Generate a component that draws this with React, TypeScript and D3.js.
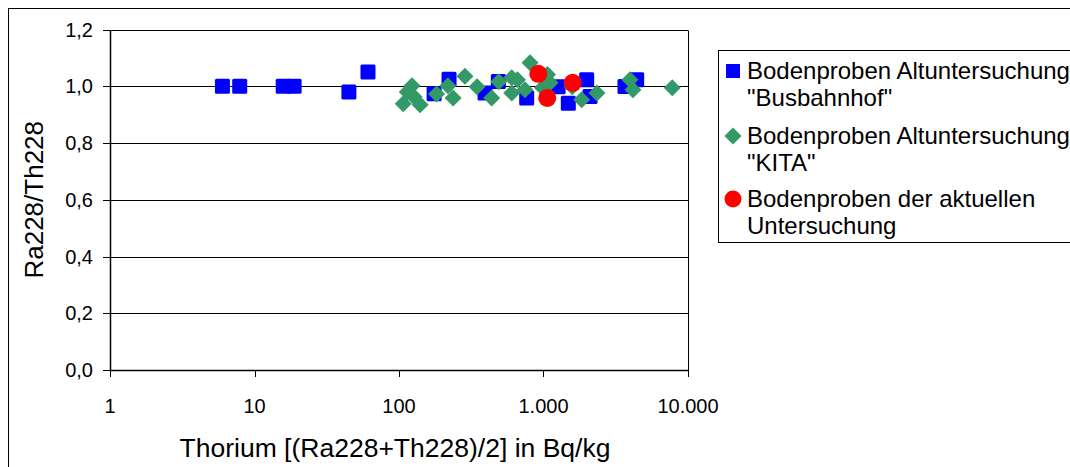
import React from "react";
import * as d3 from "d3";

// Busbahnhof (blue squares)
const busX = [6.0, 7.9, 15.8, 18.8, 45, 61, 175, 222, 394, 487, 765, 1262, 1485, 1990, 2099, 3664, 4415];
const busY = [1.0, 1.0, 1.0, 1.0, 0.98, 1.05, 0.974, 1.025, 0.976, 1.017, 0.959, 0.998, 0.94, 1.023, 0.964, 0.999, 1.023];

// KITA (green diamonds)
const kitaX = [107, 114, 123, 127, 140, 182, 218, 237, 286, 347, 438, 490, 603, 603, 660, 744, 807, 983, 1066, 1110, 1581, 1837, 2343, 3966, 4158, 7780];
const kitaY = [0.938, 0.98, 1.002, 0.963, 0.935, 0.973, 1.002, 0.959, 1.035, 0.998, 0.959, 1.016, 1.03, 0.976, 1.023, 0.988, 1.083, 0.995, 1.041, 1.012, 0.998, 0.952, 0.976, 1.023, 0.988, 0.995];

// aktuelle Untersuchung (red circles)
const aktX = [921, 1062, 1592];
const aktY = [1.044, 0.959, 1.012];

const xTicks = [1, 10, 100, 1000, 10000];
const xTickLabels = ["1", "10", "100", "1.000", "10.000"];
const yTicks = [0, 0.2, 0.4, 0.6, 0.8, 1.0, 1.2];
const yTickLabels = ["0,0", "0,2", "0,4", "0,6", "0,8", "1,0", "1,2"];

const legendLabels = [
  ["Bodenproben Altuntersuchung", "\"Busbahnhof\""],
  ["Bodenproben Altuntersuchung", "\"KITA\""],
  ["Bodenproben der aktuellen", "Untersuchung"],
];

const FONT = "'Liberation Sans', Arial, sans-serif";

export default function App() {
  const W = 1070, H = 467;
  const pl = 110, pr = 688, pt = 29.5, pb = 370;
  const x = d3.scaleLog().domain([1, 10000]).range([pl, pr]);
  const y = d3.scaleLinear().domain([0, 1.2]).range([pb, pt]);

  const sq = 15;
  const diamond = (cx: number, cy: number, r: number) =>
    `M${cx},${cy - r}L${cx + r},${cy}L${cx},${cy + r}L${cx - r},${cy}Z`;

  const legY = [71, 136, 199];
  const legBase = [[79, 106], [144, 171], [207, 234]];

  return (
    <svg width={W} height={H} style={{ position: "absolute", left: 0, top: 0, fontFamily: FONT }}>
      <rect x={0} y={0} width={W} height={H} fill="#fff" />
      <rect x={8.5} y={8.5} width={W + 20} height={H + 20} fill="none" stroke="#000" strokeWidth={1} />

      {/* gridlines */}
      {yTicks.map((t) => (
        <line key={"g" + t} x1={pl} x2={pr} y1={Math.round(y(t)) + 0.5} y2={Math.round(y(t)) + 0.5} stroke="#000" strokeWidth={1} />
      ))}
      <line x1={pr + 0.5} x2={pr + 0.5} y1={Math.round(pt) + 0.5} y2={pb + 0.5} stroke="#000" />
      {/* axes */}
      <line x1={pl + 0.5} x2={pl + 0.5} y1={Math.round(pt)} y2={pb + 1} stroke="#000" strokeWidth={1.5} />
      <line x1={pl} x2={pr + 1} y1={pb + 0.5} y2={pb + 0.5} stroke="#000" strokeWidth={1.5} />
      {yTicks.map((t, i) => (
        <g key={"yt" + t}>
          <line x1={pl - 7} x2={pl} y1={Math.round(y(t)) + 0.5} y2={Math.round(y(t)) + 0.5} stroke="#000" />
          <text x={93} y={y(t) + 7} fontSize={20} textAnchor="end" fill="#000">{yTickLabels[i]}</text>
        </g>
      ))}
      {xTicks.map((t, i) => (
        <g key={"xt" + t}>
          <line x1={Math.round(x(t)) + 0.5} x2={Math.round(x(t)) + 0.5} y1={pb} y2={pb + 7} stroke="#000" />
          <text x={x(t)} y={413} fontSize={20} textAnchor="middle" fill="#000">{xTickLabels[i]}</text>
        </g>
      ))}

      <text x={395} y={457} fontSize={26.5} textAnchor="middle" fill="#000">
        Thorium [(Ra228+Th228)/2] in Bq/kg
      </text>
      <text transform={`translate(43,${(pt + pb) / 2}) rotate(-90)`} fontSize={26} textAnchor="middle" fill="#000">
        Ra228/Th228
      </text>

      {/* marks */}
      {busX.map((v, i) => (
        <rect key={"b" + i} x={x(v) - sq / 2} y={y(busY[i]) - sq / 2} width={sq} height={sq} rx={1.5} fill="#0000FF" />
      ))}
      {kitaX.map((v, i) => (
        <path key={"k" + i} d={diamond(x(v), y(kitaY[i]), 8.5)} fill="#339966" />
      ))}
      {aktX.map((v, i) => (
        <circle key={"a" + i} cx={x(v)} cy={y(aktY[i])} r={9} fill="#FF0000" />
      ))}

      {/* legend */}
      <rect x={718.5} y={50.5} width={400} height={192} fill="#fff" stroke="#000" />
      <rect x={733 - 7} y={legY[0] - 7} width={14} height={14} fill="#0000FF" />
      <path d={diamond(733, legY[1], 8.5)} fill="#339966" />
      <circle cx={733} cy={legY[2]} r={8.5} fill="#FF0000" />
      {legendLabels.map((lines, i) => (
        <g key={"l" + i}>
          {lines.map((s, j) => (
            <text key={j} x={747} y={legBase[i][j]} fontSize={24} fill="#000">{s}</text>
          ))}
        </g>
      ))}
    </svg>
  );
}
